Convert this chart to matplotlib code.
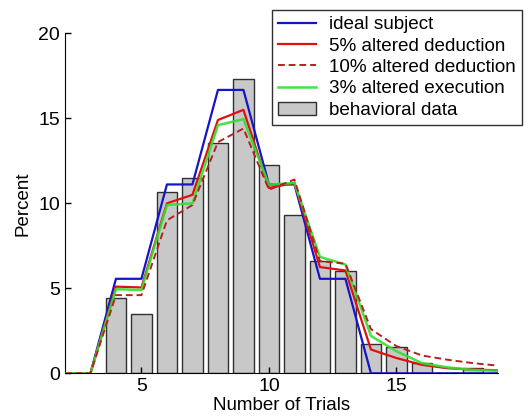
import matplotlib
matplotlib.use("Agg")
import matplotlib.pyplot as plt

plt.rcParams['font.family'] = ['Liberation Sans', 'DejaVu Sans']

# data
trials = [2, 3, 4, 5, 6, 7, 8, 9, 10, 11, 12, 13, 14, 15, 16, 17, 18, 19]
ideal = [0, 0, 5.56, 5.56, 11.11, 11.11, 16.67, 16.67, 11.11, 11.11, 5.56, 5.56, 0, 0, 0, 0, 0, 0]
alt5 = [0, 0, 5.1, 5.05, 10.0, 10.5, 14.9, 15.5, 10.9, 11.2, 6.25, 6.05, 1.4, 0.9, 0.5, 0.3, 0.22, 0.18]
alt10 = [0, 0, 4.6, 4.6, 9.0, 9.9, 13.6, 14.4, 10.8, 11.4, 6.6, 6.45, 2.6, 1.6, 1.05, 0.8, 0.6, 0.45]
exec3 = [0, 0, 4.95, 4.9, 9.9, 10.0, 14.6, 14.95, 11.1, 11.2, 6.85, 6.4, 2.2, 1.3, 0.6, 0.35, 0.2, 0.15]

bar_x = [4, 5, 6, 7, 8, 9, 10, 11, 12, 13, 14, 15, 16, 17, 18]
behav = [4.45, 3.49, 10.67, 11.47, 13.57, 17.33, 12.24, 9.33, 6.63, 6.04, 1.72, 1.53, 0.59, 0, 0.33]

labels = ['ideal subject', '5% altered deduction', '10% altered deduction',
          '3% altered execution', 'behavioral data']

fig = plt.figure(figsize=(5.28, 4.19), dpi=100)
ax = fig.add_axes([0.123, 0.109, 0.821, 0.8115])

bars = ax.bar(bar_x, behav, width=0.8, color='#c8c8c8', edgecolor='#303030', linewidth=1.0, zorder=1)
l1, = ax.plot(trials, ideal, color='#1515c8', lw=1.6, zorder=3)
l2, = ax.plot(trials, alt5, color='#e01010', lw=1.6, zorder=3)
l3, = ax.plot(trials, alt10, color='#b82020', lw=1.4, ls=(0, (3.5, 2)), zorder=4)
l4, = ax.plot(trials, exec3, color='#30e030', lw=1.8, zorder=3, alpha=0.9)

ax.set_xlim(2, 19)
ax.set_ylim(0, 20)
ax.set_xticks([5, 10, 15])
ax.set_yticks([0, 5, 10, 15, 20])
ax.tick_params(direction='in', labelsize=14, length=4, width=1)
ax.spines['top'].set_visible(False)
ax.spines['right'].set_visible(False)
ax.set_xlabel('Number of Trials', fontsize=13.5, labelpad=1)
ax.set_ylabel('Percent', fontsize=13.5, labelpad=5)

leg = fig.legend([l1, l2, l3, l4, bars[0]], labels, loc='upper right',
                 bbox_to_anchor=(0.989, 0.976), fontsize=13.6, fancybox=False,
                 frameon=True, handlelength=2.0, handletextpad=0.7,
                 labelspacing=0.22, borderpad=0.32, borderaxespad=0.0)
leg.get_frame().set_edgecolor('#303030')
leg.get_frame().set_linewidth(1.0)
leg.get_frame().set_alpha(1.0)

fig.savefig('out.png', dpi=100)
